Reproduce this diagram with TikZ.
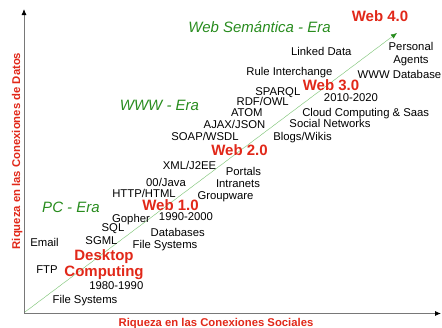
\documentclass[tikz,border=0pt]{standalone}
\usepackage{fontspec}
\setmainfont{Liberation Sans}
\usetikzlibrary{arrows.meta}
\definecolor{ered}{RGB}{225,40,25}
\definecolor{egreen}{RGB}{40,140,30}
\definecolor{lgreen}{RGB}{90,180,80}
\definecolor{axgray}{RGB}{120,120,120}
\tikzset{
  item/.style={inner sep=0pt, font=\fontsize{11.3}{12.7}\selectfont, text height=8.1pt, text depth=0pt, align=center},
  webver/.style={inner sep=0pt, font=\fontsize{15}{16}\selectfont\bfseries, text=ered, text height=10.8pt, text depth=0pt, align=center},
  era/.style={inner sep=0pt, font=\fontsize{15}{16}\selectfont\itshape, text=egreen, text height=10.8pt, text depth=0pt},
  axlabel/.style={inner sep=0pt, font=\fontsize{11.3}{13}\selectfont\bfseries, text=ered, text height=8.1pt, text depth=0pt},
  axis/.style={draw=axgray, line width=0.8pt, -{Latex[length=6pt,width=5pt,black]}},
  trend/.style={draw=lgreen, line width=0.45pt, dash pattern=on 1pt off 0.5pt, -{Latex[length=6pt,width=5pt,egreen]}}
}
\begin{document}
\begin{tikzpicture}[x=1pt,y=-1pt]
\useasboundingbox (0,0) rectangle (442,327);
% axes
\coordinate (o) at (24,313.5);
\coordinate (ytop) at (24,9);
\coordinate (xend) at (441,313.5);
\coordinate (tstart) at (25,312);
\coordinate (tend) at (397,33);
\draw[axis] (o) -- (ytop);
\draw[axis] (o) -- (xend);
\draw[trend] (tstart) -- (tend);
\node[axlabel, rotate=90] (ylab) at (16,151) {Riqueza en las Conexiones de Datos};
\node[axlabel] (xlab) at (216,322) {Riqueza en las Conexiones Sociales};
% eras
\node[era] (e3) at (259.5,27) {Web Semántica - Era};
\node[era] (e2) at (159.5,105) {WWW - Era};
\node[era] (e1) at (71,207) {PC - Era};
% web versions
\node[webver] (w4) at (380,16) {Web 4.0};
\node[webver] (w3) at (331,85) {Web 3.0};
\node[webver] (w2) at (239.5,150) {Web 2.0};
\node[webver] (w1) at (170.5,205) {Web 1.0};
\node[webver, text height=26.8pt] (dc) at (104,263) {Desktop\\Computing};
% items
\node[item] (n1) at (321.3,51) {Linked Data};
\node[item, text height=20.8pt] (n2) at (411,53) {Personal\\Agents};
\node[item] (n3) at (399.5,74) {WWW Database};
\node[item] (n4) at (289.5,71) {Rule Interchange};
\node[item] (n5) at (277.8,91) {SPARQL};
\node[item] (n6) at (262.7,101) {RDF/OWL};
\node[item] (n7) at (351,97) {2010-2020};
\node[item] (n8) at (246.8,112) {ATOM};
\node[item] (n9) at (365.7,112) {Cloud Computing \& Saas};
\node[item] (n10) at (234.5,124) {AJAX/JSON};
\node[item] (n11) at (330,123) {Social Networks};
\node[item] (n12) at (205,136) {SOAP/WSDL};
\node[item] (n13) at (302.5,136) {Blogs/Wikis};
\node[item] (n14) at (189.5,165) {XML/J2EE};
\node[item] (n15) at (243.5,171) {Portals};
\node[item] (n16) at (238,183) {Intranets};
\node[item] (n17) at (225.5,195) {Groupware};
\node[item] (n18) at (166,182) {00/Java};
\node[item] (n19) at (144,193) {HTTP/HTML};
\node[item] (n20) at (186,216) {1990-2000};
\node[item] (n21) at (131,218) {Gopher};
\node[item] (n22) at (113,227) {SQL};
\node[item] (n23) at (177.7,232) {Databases};
\node[item] (n24) at (101.5,240) {SGML};
\node[item] (n25) at (165,244) {File Systems};
\node[item] (n26) at (44.5,242.7) {Email};
\node[item] (n27) at (47,269) {FTP};
\node[item] (n28) at (116.3,285) {1980-1990};
\node[item] (n29) at (85,299) {File Systems};
\end{tikzpicture}
\end{document}
